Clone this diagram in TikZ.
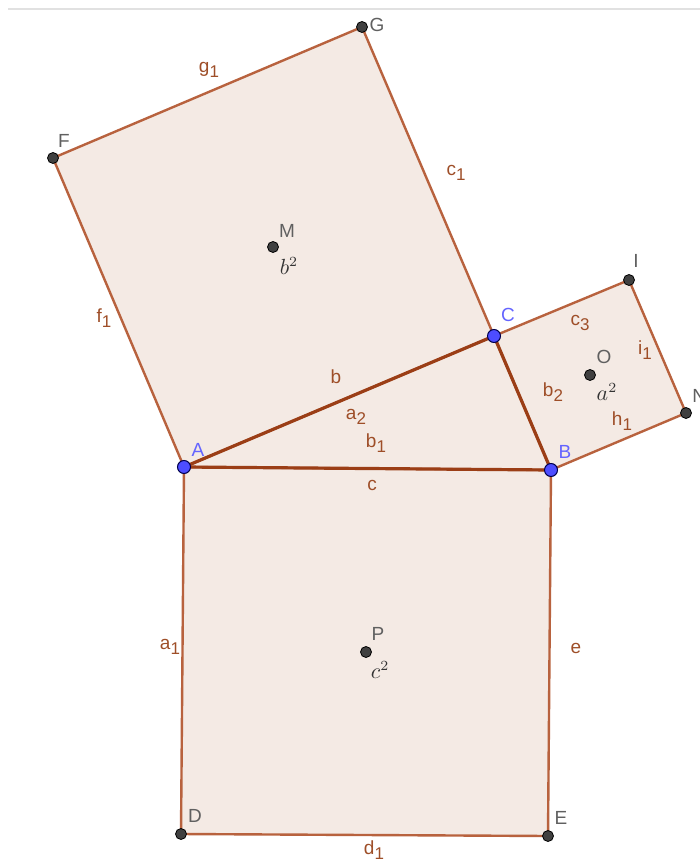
\documentclass[tikz,border=0pt]{standalone}
\usepackage{fontspec}
\setmainfont{Liberation Sans}
\definecolor{sqfill}{RGB}{244,234,228}
\definecolor{sqline}{RGB}{184,98,62}
\definecolor{triline}{RGB}{155,62,22}
\definecolor{elab}{RGB}{158,78,40}
\definecolor{plab}{RGB}{96,96,96}
\definecolor{blab}{RGB}{100,100,255}
\definecolor{bpt}{RGB}{77,77,255}
\definecolor{topline}{RGB}{225,225,225}
\newcommand{\lsub}[1]{\raisebox{-0.55ex}{\fontsize{8.5}{8.5}\selectfont #1}}
\tikzset{
  sq/.style={fill=sqfill, draw=sqline, line width=1.2pt, line join=round},
  tri/.style={draw=triline, line width=1.6pt, line cap=round},
  edgelab/.style={text=elab, font=\fontsize{9.5}{10}\selectfont, inner sep=0pt},
  ptlab/.style={text=plab, font=\fontsize{9.5}{10}\selectfont, inner sep=0pt},
  bluelab/.style={text=blab, font=\fontsize{9.5}{10}\selectfont, inner sep=0pt},
  mathlab/.style={text=black!80, font=\fontsize{10.5}{11}\selectfont, inner sep=0pt},
  freept/.style={circle, fill=black!75, draw=black, line width=0.4pt, inner sep=0pt, minimum size=5.5pt},
  bluept/.style={circle, fill=bpt, draw=black!70!blue, line width=0.5pt, inner sep=0pt, minimum size=6.5pt}
}
\begin{document}
\begin{tikzpicture}[x=0.5pt,y=-0.5pt]
\useasboundingbox (0,0) rectangle (700,861);
\draw[topline, line width=1pt] (8,9) -- (700,9);
% points
\coordinate (A) at (184,467);
\coordinate (B) at (551,470);
\coordinate (C) at (494,336);
\coordinate (D) at (181,834);
\coordinate (E) at (548,836);
\coordinate (F) at (53,158);
\coordinate (G) at (362,27);
\coordinate (I) at (629,280);
\coordinate (N) at (686,413);
\coordinate (M) at (273,247);
\coordinate (O) at (590,375);
\coordinate (P) at (366,652);
% polygons
\fill[sqfill] (A) -- (B) -- (C) -- cycle;
\draw[sq] (A) -- (B) -- (E) -- (D) -- cycle;
\draw[sq] (A) -- (C) -- (G) -- (F) -- cycle;
\draw[sq] (C) -- (B) -- (N) -- (I) -- cycle;
\draw[tri] (A) -- (B);
\draw[tri] (B) -- (C);
\draw[tri] (C) -- (A);
% dots
\foreach \p in {D,E,F,G,I,N,M,O,P} \node[freept] (\p dot) at (\p) {};
\foreach \p in {A,B,C} \node[bluept] (\p dot) at (\p) {};
% point labels
\node[ptlab] (Glab) at (377,25) {G};
\node[ptlab] (Flab) at (64,141) {F};
\node[ptlab] (Mlab) at (287,231) {M};
\node[ptlab] (Ilab) at (636,261) {I};
\node[ptlab, anchor=west] (Nlab) at (692,396) {N};
\node[ptlab] (Olab) at (604,357) {O};
\node[ptlab] (Plab) at (378,634) {P};
\node[ptlab] (Dlab) at (195,816) {D};
\node[ptlab] (Elab) at (561,818) {E};
\node[bluelab] (Alab) at (198,450) {A};
\node[bluelab] (Blab) at (565,452) {B};
\node[bluelab] (Clab) at (508,315) {C};
% area labels
\node[mathlab] (b2lab) at (289,266) {$b^2$};
\node[mathlab] (a2lab) at (607,392) {$a^2$};
\node[mathlab] (c2lab) at (380,670) {$c^2$};
% edge labels
\node[edgelab] (g1) at (209,70) {g\lsub{1}};
\node[edgelab] (c1) at (456,173) {c\lsub{1}};
\node[edgelab] (f1) at (104,318) {f\lsub{1}};
\node[edgelab] (c3) at (580,323) {c\lsub{3}};
\node[edgelab] (i1) at (645,350) {i\lsub{1}};
\node[edgelab] (b2) at (553,392) {b\lsub{2}};
\node[edgelab] (h1) at (622,421) {h\lsub{1}};
\node[edgelab] (b) at (336,377) {b};
\node[edgelab] (a2) at (356,417) {a\lsub{2}};
\node[edgelab] (b1) at (376,443) {b\lsub{1}};
\node[edgelab] (c) at (372,485) {c};
\node[edgelab] (a1) at (170,647) {a\lsub{1}};
\node[edgelab] (e) at (576,648) {e};
\node[edgelab] (d1) at (374,850) {d\lsub{1}};
\end{tikzpicture}
\end{document}
